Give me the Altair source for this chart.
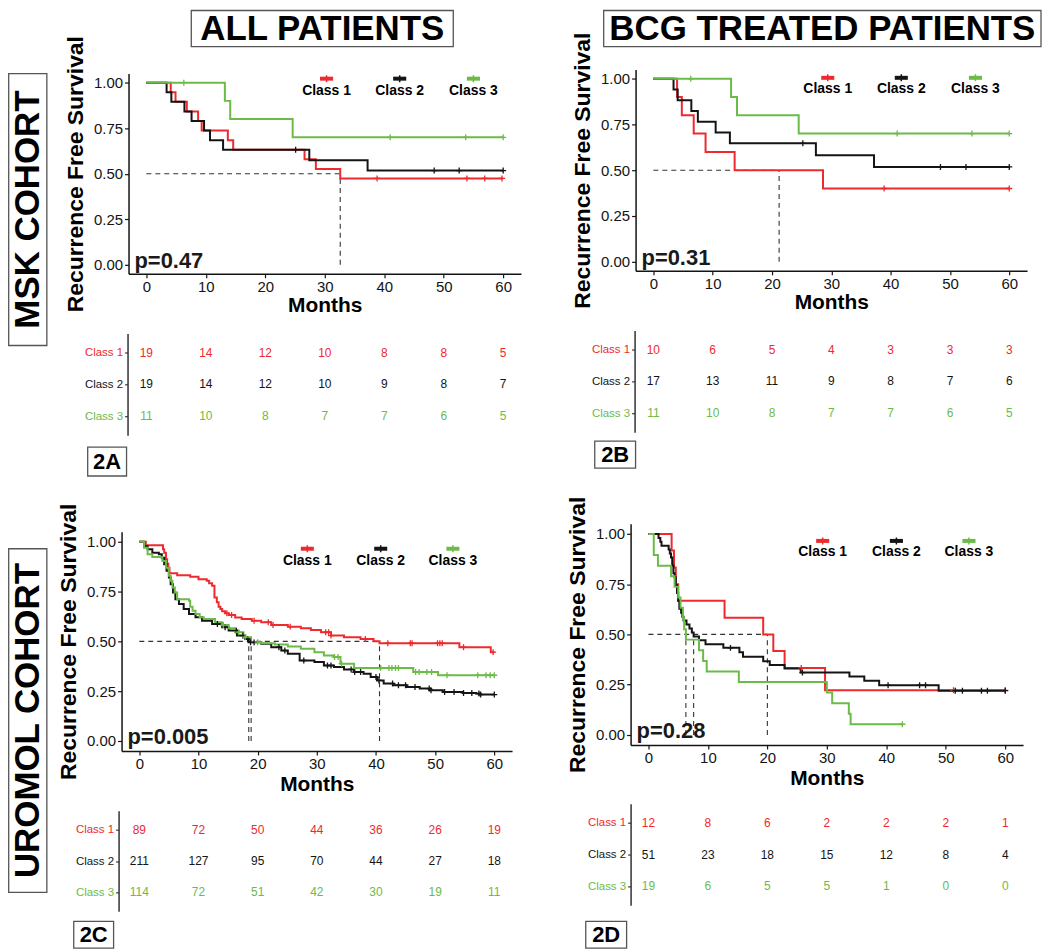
import altair as alt
import pandas as pd

FONT = "Liberation Sans, Arial, Helvetica, sans-serif"
INK = "#141414"
CLASSES = ["Class 1", "Class 2", "Class 3"]
COLORS = ["#ee2a2e", "#141414", "#6cbb48"]
MONTHS = [0, 10, 20, 30, 40, 50, 60]
SURV_TICKS = [0.0, 0.25, 0.5, 0.75, 1.0]

# ---------------- 2A : MSK cohort, all patients ----------------
A1_T = [0, 4.1, 4.9, 6.8, 8.7, 9.3, 13.7, 14.6, 26.6, 28.5, 32.6, 60]
A1_S = [1.0, 0.947, 0.895, 0.842, 0.789, 0.737, 0.684, 0.632, 0.579, 0.526, 0.474, 0.474]
A2_T = [0, 3.4, 4.2, 6.4, 7.6, 9.7, 10.7, 12.9, 27.4, 37.2, 60]
A2_S = [1.0, 0.947, 0.895, 0.842, 0.789, 0.737, 0.684, 0.632, 0.574, 0.517, 0.517]
A3_T = [0, 13.2, 14.1, 24.6, 60]
A3_S = [1.0, 0.9, 0.8, 0.7, 0.7]
A1_CENS = [38.8, 53.9, 56.9, 59.8]
A2_CENS = [25.1, 48.4, 52.6, 60]
A3_CENS = [6.3, 41.0, 53.7, 60]
A_MEDIANS = [32.6]
A_P = "p=0.47"
A_RISK = [[19, 14, 12, 10, 8, 8, 5], [19, 14, 12, 10, 9, 8, 7], [11, 10, 8, 7, 7, 6, 5]]

# ---------------- 2B : MSK cohort, BCG treated ----------------
B1_T = [0, 4.0, 4.8, 6.8, 8.8, 13.7, 28.6, 60]
B1_S = [1.0, 0.9, 0.8, 0.7, 0.6, 0.5, 0.4, 0.4]
B2_T = [0, 3.4, 4.1, 6.4, 7.5, 10.5, 12.9, 27.4, 37.2, 60]
B2_S = [1.0, 0.941, 0.882, 0.824, 0.765, 0.706, 0.647, 0.582, 0.518, 0.518]
B3_T = [0, 13.1, 14.1, 24.5, 60]
B3_S = [1.0, 0.9, 0.8, 0.7, 0.7]
B1_CENS = [38.9, 60]
B2_CENS = [25.2, 48.4, 52.7, 60]
B3_CENS = [6.3, 41.1, 53.7, 60]
B_MEDIANS = [21.2]
B_P = "p=0.31"
B_RISK = [[10, 6, 5, 4, 3, 3, 3], [17, 13, 11, 9, 8, 7, 6], [11, 10, 8, 7, 7, 6, 5]]

# ---------------- 2C : UROMOL cohort, all patients ----------------
C1_T = [0, 1.1, 4.0, 4.2, 4.5, 4.7, 4.9, 5.1, 6.4, 8.6, 10.0, 11.4, 11.8, 12.3, 12.7, 13.1,
        13.4, 13.7, 14.0, 14.5, 15.1, 16.2, 17.3, 19.0, 20.6, 22.3, 25.1, 27.3, 29.0, 30.7,
        32.4, 34.6, 37.4, 39.6, 40.6, 54.1, 59.4, 60]
C1_S = [1.0, 0.982, 0.962, 0.945, 0.912, 0.890, 0.870, 0.842, 0.832, 0.824, 0.812, 0.804,
        0.792, 0.779, 0.720, 0.696, 0.674, 0.662, 0.651, 0.641, 0.632, 0.620, 0.612, 0.604,
        0.596, 0.582, 0.574, 0.566, 0.557, 0.546, 0.529, 0.521, 0.512, 0.501, 0.491, 0.471,
        0.446, 0.446]
C2_T = [0, 0.8, 1.4, 2.2, 3.3, 3.8, 4.2, 4.6, 5.0, 5.3, 5.7, 6.1, 6.7, 7.5, 8.4, 9.5, 10.6,
        12.3, 14.0, 15.1, 16.5, 17.9, 18.5, 20.6, 22.3, 24.0, 25.1, 27.1, 29.6, 31.2, 32.9,
        34.6, 36.3, 37.9, 39.1, 40.2, 41.3, 43.0, 45.2, 47.4, 49.1, 51.3, 54.7, 56.9, 57.5, 60]
C2_S = [1.0, 0.978, 0.962, 0.945, 0.937, 0.920, 0.887, 0.854, 0.820, 0.787, 0.745, 0.712,
        0.687, 0.662, 0.637, 0.621, 0.604, 0.587, 0.571, 0.554, 0.529, 0.512, 0.495, 0.488,
        0.471, 0.454, 0.438, 0.404, 0.396, 0.379, 0.371, 0.359, 0.346, 0.338, 0.321, 0.304,
        0.288, 0.280, 0.271, 0.263, 0.255, 0.246, 0.241, 0.238, 0.233, 0.233]
C3_T = [0, 0.8, 1.4, 2.2, 3.9, 4.5, 5.0, 5.3, 5.6, 6.0, 6.4, 8.4, 8.6, 9.0, 9.5, 10.2, 10.9,
        12.8, 14.0, 15.1, 16.2, 17.6, 18.9, 20.6, 22.9, 25.1, 27.3, 29.6, 31.2, 32.9, 34.0,
        36.3, 46.3, 50.5, 60]
C3_S = [1.0, 0.970, 0.937, 0.923, 0.903, 0.870, 0.829, 0.804, 0.770, 0.745, 0.712, 0.704,
        0.674, 0.654, 0.637, 0.621, 0.612, 0.596, 0.582, 0.566, 0.546, 0.521, 0.496, 0.491,
        0.484, 0.474, 0.463, 0.446, 0.429, 0.421, 0.388, 0.366, 0.346, 0.330, 0.330]
C1_CENS = [14.8, 15.6, 19.4, 21.8, 22.6, 25.5, 31.5, 32.0, 32.4, 38.2, 42.0, 45.8, 46.1,
           50.4, 50.8, 51.2, 54.8, 59.8]
C2_CENS = [13.2, 14.5, 16.4, 17.5, 18.3, 18.8, 19.4, 23.6, 24.6, 27.8, 31.8, 32.4, 35.8,
           36.4, 37.4, 40.0, 40.5, 42.8, 43.8, 45.0, 46.6, 49.0, 49.3, 51.6, 53.2, 54.8, 56.2,
           57.4, 57.7, 60]
C3_CENS = [14.2, 16.8, 17.9, 20.0, 33.0, 33.6, 34.2, 40.8, 42.2, 42.7, 43.3, 43.8, 46.7,
           47.3, 48.6, 49.4, 52.0, 57.2, 58.6, 59.3, 60]
C_MEDIANS = [18.5, 18.9, 40.6]
C_P = "p=0.005"
C_RISK = [[89, 72, 50, 44, 36, 26, 19], [211, 127, 95, 70, 44, 27, 18], [114, 72, 51, 42, 30, 19, 11]]

# ---------------- 2D : UROMOL cohort, BCG treated ----------------
D1_T = [0, 3.9, 4.3, 4.6, 5.0, 12.8, 19.3, 21.0, 22.9, 29.7, 60]
D1_S = [1.0, 0.917, 0.833, 0.750, 0.667, 0.583, 0.500, 0.417, 0.333, 0.222, 0.222]
D2_T = [0, 1.7, 2.0, 2.2, 3.4, 3.6, 3.8, 4.0, 4.2, 4.4, 4.6, 4.8, 5.0, 5.2, 5.5, 5.7, 5.9,
        6.4, 6.9, 7.3, 7.6, 8.5, 9.6, 12.6, 15.3, 15.9, 19.3, 20.4, 22.9, 25.6, 33.8, 36.3,
        38.8, 48.8, 60]
D2_S = [1.0, 0.980, 0.961, 0.941, 0.922, 0.902, 0.882, 0.843, 0.804, 0.784, 0.745, 0.706,
        0.667, 0.627, 0.608, 0.588, 0.569, 0.549, 0.529, 0.510, 0.490, 0.471, 0.451, 0.433,
        0.411, 0.389, 0.367, 0.348, 0.330, 0.310, 0.290, 0.270, 0.247, 0.220, 0.220]
D3_T = [0, 0.9, 1.6, 3.8, 4.4, 5.0, 5.4, 5.8, 6.0, 6.3, 8.5, 9.2, 9.8, 15.2, 30.0, 30.9,
        33.7, 34.0, 42.7]
D3_S = [1.0, 0.895, 0.842, 0.789, 0.737, 0.684, 0.632, 0.579, 0.526, 0.474, 0.421, 0.368,
        0.316, 0.263, 0.211, 0.158, 0.105, 0.053, 0.053]
D1_CENS = [25.7, 51.3, 60]
D2_CENS = [13.8, 25.9, 40.3, 45.6, 46.6, 51.6, 52.8, 56.0, 57.0, 60]
D3_CENS = [42.7]
D_MEDIANS = [6.3, 7.6, 20.0]
D_P = "p=0.28"
D_RISK = [[12, 8, 6, 2, 2, 2, 1], [51, 23, 18, 15, 12, 8, 4], [19, 6, 5, 5, 1, 0, 0]]

# ---------------- in-plot legend anchors (months, survival) ----------------
A_LEG = ([30.3, 42.6, 55.0], 1.022, 0.956)
B_LEG = ([29.4, 41.8, 54.3], 1.005, 0.945)
C_LEG = ([28.4, 40.8, 53.0], 0.965, 0.905)
D_LEG = ([29.3, 41.7, 53.9], 0.965, 0.910)

# ---------------- page layout (pixels inside the drawing area) ----------------
W, H = 1034, 943
# plot rectangles of the survival panels: (x_left, x_right, y_top, y_bottom)
KM_BOX = {"A": (121, 515, 64, 265), "B": (630, 1023, 60, 262),
          "C": (114, 506, 524, 744), "D": (625, 1019, 516, 738)}
# padding between month tick labels and the "Months" title, per panel
MONTHS_PAD = {"A": 0, "B": 0, "C": 2, "D": 2}
# risk tables: (axis x, y_top, y_bottom); columns share the panel's month scale
TAB_BOX = {"A": (120, 325, 427), "B": (629, 322, 424),
           "C": (111, 804, 905), "D": (625, 797, 899)}
TITLE_BOXES = [("ALL PATIENTS", 184, 447, 0.7, 37), ("BCG TREATED PATIENTS", 598, 1037, 0.7, 37)]
ROW_BOXES = [("MSK COHORT", 0.7, 39, 64, 337), ("UROMOL COHORT", 0.7, 39, 541, 886)]
TAG_BOXES = [("2A", 80, 119, 439, 468), ("2B", 589, 630, 433, 460),
             ("2C", 66, 106, 915, 942), ("2D", 580, 621, 915, 942)]

PLUS = "M-1,0L1,0M0,-1L0,1"


def step_at(ts, ss, t):
    v = ss[0]
    for ti, si in zip(ts, ss):
        if ti <= t:
            v = si
    return v


def color_enc():
    return alt.Color("cls:N", scale=alt.Scale(domain=CLASSES, range=COLORS), legend=None)


def km(key, curves, censors, medians, pval, leg):
    x0, x1, y0, y1 = KM_BOX[key]
    xs = alt.Scale(domain=[-3, 63], range=[x0, x1], nice=False, zero=False)
    ys = alt.Scale(domain=[-0.05, 1.05], range=[y1, y0], nice=False, zero=False)
    xax = alt.Axis(orient="bottom", offset=y1 - H, values=MONTHS, title="Months", grid=False,
                   labelFont=FONT, labelFontSize=15, labelColor=INK, labelPadding=2,
                   labelFlush=False, tickSize=4, tickColor=INK, tickWidth=1.2, domainColor=INK,
                   domainWidth=1.5, titleFont=FONT, titleFontSize=21, titleFontWeight="bold",
                   titleColor="#000000", titlePadding=MONTHS_PAD[key])
    yax = alt.Axis(orient="left", offset=-x0, values=SURV_TICKS, format=".2f",
                   title="Recurrence Free Survival", grid=False, labelFont=FONT, labelFontSize=15,
                   labelColor=INK, labelPadding=2, labelFlush=False, tickSize=4, tickColor=INK,
                   tickWidth=1.2, domainColor=INK, domainWidth=1.5, titleFont=FONT,
                   titleFontSize=23, titleFontWeight="bold", titleColor="#000000", titlePadding=6)
    X = alt.X("t:Q", scale=xs, axis=xax)
    Y = alt.Y("s:Q", scale=ys, axis=yax)

    curve_rows, cens_rows = [], []
    for c, (ts, ss), cens in zip(CLASSES, curves, censors):
        for t, s in zip(ts, ss):
            curve_rows.append({"cls": c, "t": t, "s": s})
        for t in cens:
            cens_rows.append({"cls": c, "t": t, "s": step_at(ts, ss, t)})
    curve_df = pd.DataFrame(curve_rows)
    cens_df = pd.DataFrame(cens_rows)
    med_h = pd.DataFrame({"t": [0.0], "t2": [max(medians)], "s": [0.5]})
    med_v = pd.DataFrame({"t": medians, "s": [0.0] * len(medians), "s2": [0.5] * len(medians)})
    lx, key_y, lab_y = leg
    key_df = pd.DataFrame({"cls": CLASSES, "t": [x - 1.1 for x in lx],
                           "t2": [x + 1.1 for x in lx], "s": [key_y] * 3})
    keyc_df = pd.DataFrame({"cls": CLASSES, "t": lx, "s": [key_y] * 3})
    lab_df = pd.DataFrame({"label": CLASSES, "t": lx, "s": [lab_y] * 3})
    p_df = pd.DataFrame({"label": [pval], "t": [-2.0], "s": [0.02]})

    dash = dict(strokeDash=[5, 4], color="#333333", strokeWidth=1.1)
    layers = [
        alt.Chart(med_h).mark_rule(**dash).encode(x=X, x2="t2", y=Y),
        alt.Chart(med_v).mark_rule(**dash).encode(x=X, y=Y, y2="s2"),
        alt.Chart(curve_df).mark_line(interpolate="step-after", strokeWidth=2).encode(
            x=X, y=Y, color=color_enc(), detail="cls:N"),
        alt.Chart(cens_df).mark_point(shape=PLUS, size=36, strokeWidth=1.3, filled=False,
                                      opacity=1).encode(x=X, y=Y, color=color_enc()),
        alt.Chart(key_df).mark_rule(strokeWidth=4).encode(x=X, x2="t2", y=Y, color=color_enc()),
        alt.Chart(keyc_df).mark_point(shape=PLUS, size=50, strokeWidth=1.5, filled=False,
                                      opacity=1).encode(x=X, y=Y, color=color_enc()),
        alt.Chart(lab_df).mark_text(font=FONT, fontSize=14, fontWeight="bold",
                                    color="#000000").encode(x=X, y=Y, text="label:N"),
        alt.Chart(p_df).mark_text(font=FONT, fontSize=22, fontWeight="bold", align="left",
                                  color="#1a1a1a").encode(x=X, y=Y, text="label:N"),
    ]
    return alt.layer(*layers)


def risk_table(key, counts):
    x0, x1, _, _ = KM_BOX[key]
    ax, ty0, ty1 = TAB_BOX[key]
    rows = []
    for c, row in zip(CLASSES, counts):
        for t, n in zip(MONTHS, row):
            rows.append({"cls": c, "t": t, "n": n})
    df = pd.DataFrame(rows)
    label_color = {"condition": [{"test": "datum.value == 'Class 1'", "value": COLORS[0]},
                                 {"test": "datum.value == 'Class 3'", "value": COLORS[2]}],
                   "value": INK}
    yax = alt.Axis(orient="left", offset=-ax, title="", grid=False, labelFont=FONT,
                   labelFontSize=11.5, labelColor=label_color, labelPadding=2, tickSize=3,
                   tickColor=INK, domainColor="#333333", domainWidth=1.5)
    return alt.Chart(df).mark_text(font=FONT, fontSize=12).encode(
        x=alt.X("t:Q", scale=alt.Scale(domain=[-3, 63], range=[x0, x1], nice=False, zero=False),
                axis=None),
        y=alt.Y("cls:N", scale=alt.Scale(domain=CLASSES, type="point", padding=0.6,
                                         range=[ty0, ty1]), axis=yax),
        text="n:Q",
        color=color_enc(),
    )


def boxed(text, bx0, bx1, by0, by1, size, angle=0):
    frame = alt.Chart(pd.DataFrame({"label": [text]})).mark_rect(
        fillOpacity=0, stroke="#555555", strokeWidth=1.3
    ).encode(x=alt.value(bx0), x2=alt.value(bx1), y=alt.value(by0), y2=alt.value(by1))
    word = alt.Chart(pd.DataFrame({"label": [text]})).mark_text(
        font=FONT, fontSize=size, fontWeight="bold", angle=angle, color="#000000"
    ).encode(x=alt.value((bx0 + bx1) / 2), y=alt.value((by0 + by1) / 2), text="label:N")
    return [frame, word]


panels = [
    km("A", [(A1_T, A1_S), (A2_T, A2_S), (A3_T, A3_S)], [A1_CENS, A2_CENS, A3_CENS],
       A_MEDIANS, A_P, A_LEG),
    km("B", [(B1_T, B1_S), (B2_T, B2_S), (B3_T, B3_S)], [B1_CENS, B2_CENS, B3_CENS],
       B_MEDIANS, B_P, B_LEG),
    km("C", [(C1_T, C1_S), (C2_T, C2_S), (C3_T, C3_S)], [C1_CENS, C2_CENS, C3_CENS],
       C_MEDIANS, C_P, C_LEG),
    km("D", [(D1_T, D1_S), (D2_T, D2_S), (D3_T, D3_S)], [D1_CENS, D2_CENS, D3_CENS],
       D_MEDIANS, D_P, D_LEG),
    risk_table("A", A_RISK),
    risk_table("B", B_RISK),
    risk_table("C", C_RISK),
    risk_table("D", D_RISK),
]

decor = []
for text, bx0, bx1, by0, by1 in TITLE_BOXES:
    decor += boxed(text, bx0, bx1, by0, by1, 35)
for text, bx0, bx1, by0, by1 in ROW_BOXES:
    decor += boxed(text, bx0, bx1, by0, by1, 35, angle=270)
for text, bx0, bx1, by0, by1 in TAG_BOXES:
    decor += boxed(text, bx0, bx1, by0, by1, 22)

chart = alt.layer(*panels, *decor).resolve_scale(
    x="independent", y="independent"
).resolve_axis(
    x="independent", y="independent"
).properties(width=W, height=H, padding=0).configure_view(strokeWidth=0)

chart.save("out.html", embed_options={"renderer": "svg", "actions": False})
